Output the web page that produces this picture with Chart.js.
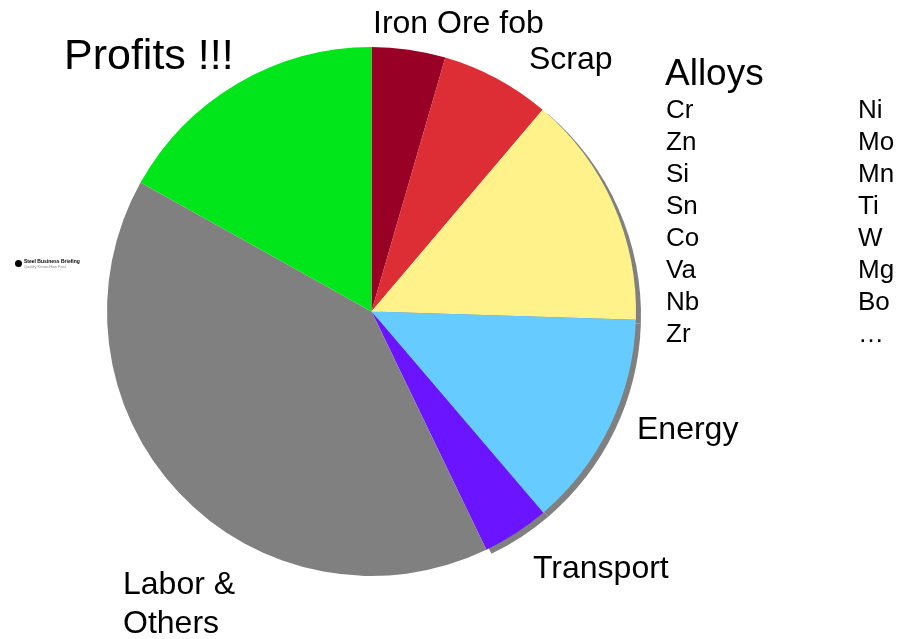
<!DOCTYPE html>
<html lang="en">
<head>
  <meta charset="UTF-8">
  <title>Steel cost breakdown</title>
  <script src="https://cdn.jsdelivr.net/npm/chart.js"></script>
  <style>
    html, body { margin: 0; padding: 0; background: #fff; }
    body { width: 907px; height: 639px; position: relative; overflow: hidden;
           font-family: "Liberation Sans", Arial, sans-serif; color: #000; }
    #chartBox { position: absolute; left: 0; top: 0; width: 907px; height: 639px; }
    .lbl { position: absolute; line-height: 1; white-space: nowrap; }
    .logo { position: absolute; left: 15px; top: 258px; }
    .logo .dot { position: absolute; left: 0; top: 2px; width: 7px; height: 7px; border-radius: 50%; background: #000; }
    .logo .t1 { position: absolute; left: 9px; top: 0; font-size: 5px; font-weight: bold; white-space: nowrap; }
    .logo .t2 { position: absolute; left: 9px; top: 6px; font-size: 4px; color: #888; white-space: nowrap; }
  </style>
</head>
<body>
  <div id="chartBox"><canvas id="pieChart" width="907" height="639"></canvas></div>

  <div class="lbl" style="left:373px; top:6px; font-size:32px;">Iron Ore fob</div>
  <div class="lbl" style="left:529px; top:42px; font-size:32px;">Scrap</div>
  <div class="lbl" style="left:64px; top:33px; font-size:43px;">Profits !!!</div>
  <div class="lbl" style="left:665px; top:54px; font-size:37px;">Alloys</div>
  <div class="lbl" style="left:637px; top:412px; font-size:32px;">Energy</div>
  <div class="lbl" style="left:533px; top:551px; font-size:32px;">Transport</div>
  <div class="lbl" style="left:123px; top:564px; font-size:32px; line-height:39px;">Labor &amp;<br>Others</div>
  <div id="alloyList"></div>

  <div class="logo">
    <div class="dot"></div>
    <div class="t1">Steel Business Briefing</div>
    <div class="t2">Quality Know-How Fast</div>
  </div>

  <script>
    // cost components, clockwise from 12 o'clock
    const categories = ['Iron Ore fob', 'Scrap', 'Alloys', 'Energy', 'Transport', 'Labor & Others', 'Profits !!!'];
    const shares = [4.5, 6.7, 14.3, 13.25, 4.1, 40.25, 16.9];
    const sliceColors = ['#990026', '#de2e35', '#fff28b', '#66ccff', '#6a14ff', '#808080', '#00e61a'];
    const shadowed = [2, 3, 4];

    const alloysLeft = ['Cr', 'Zn', 'Si', 'Sn', 'Co', 'Va', 'Nb', 'Zr'];
    const alloysRight = ['Ni', 'Mo', 'Mn', 'Ti', 'W', 'Mg', 'Bo', '…'];

    const list = document.getElementById('alloyList');
    function addCol(items, x) {
      items.forEach((txt, i) => {
        const d = document.createElement('div');
        d.className = 'lbl';
        d.style.left = x + 'px';
        d.style.top = (96 + i * 32) + 'px';
        d.style.fontSize = '26px';
        d.textContent = txt;
        list.appendChild(d);
      });
    }
    addCol(alloysLeft, 666);
    addCol(alloysRight, 858);

    // gray drop shadow behind a few slices
    const sliceShadow = {
      id: 'sliceShadow',
      beforeDatasetsDraw(chart) {
        const ctx = chart.ctx;
        const arcs = chart.getDatasetMeta(0).data;
        ctx.save();
        ctx.fillStyle = '#808080';
        shadowed.forEach(i => {
          const a = arcs[i];
          ctx.beginPath();
          ctx.moveTo(a.x + 5, a.y + 4);
          ctx.arc(a.x + 5, a.y + 4, a.outerRadius, a.startAngle, a.endAngle);
          ctx.closePath();
          ctx.fill();
        });
        ctx.restore();
      }
    };

    new Chart(document.getElementById('pieChart').getContext('2d'), {
      type: 'pie',
      data: {
        labels: categories,
        datasets: [{
          data: shares,
          backgroundColor: sliceColors,
          borderWidth: 0
        }]
      },
      options: {
        responsive: false,
        animation: false,
        layout: { padding: { left: 107, right: 271, top: 47, bottom: 63 } },
        plugins: {
          legend: { display: false },
          tooltip: { enabled: false }
        }
      },
      plugins: [sliceShadow]
    });
  </script>
</body>
</html>
